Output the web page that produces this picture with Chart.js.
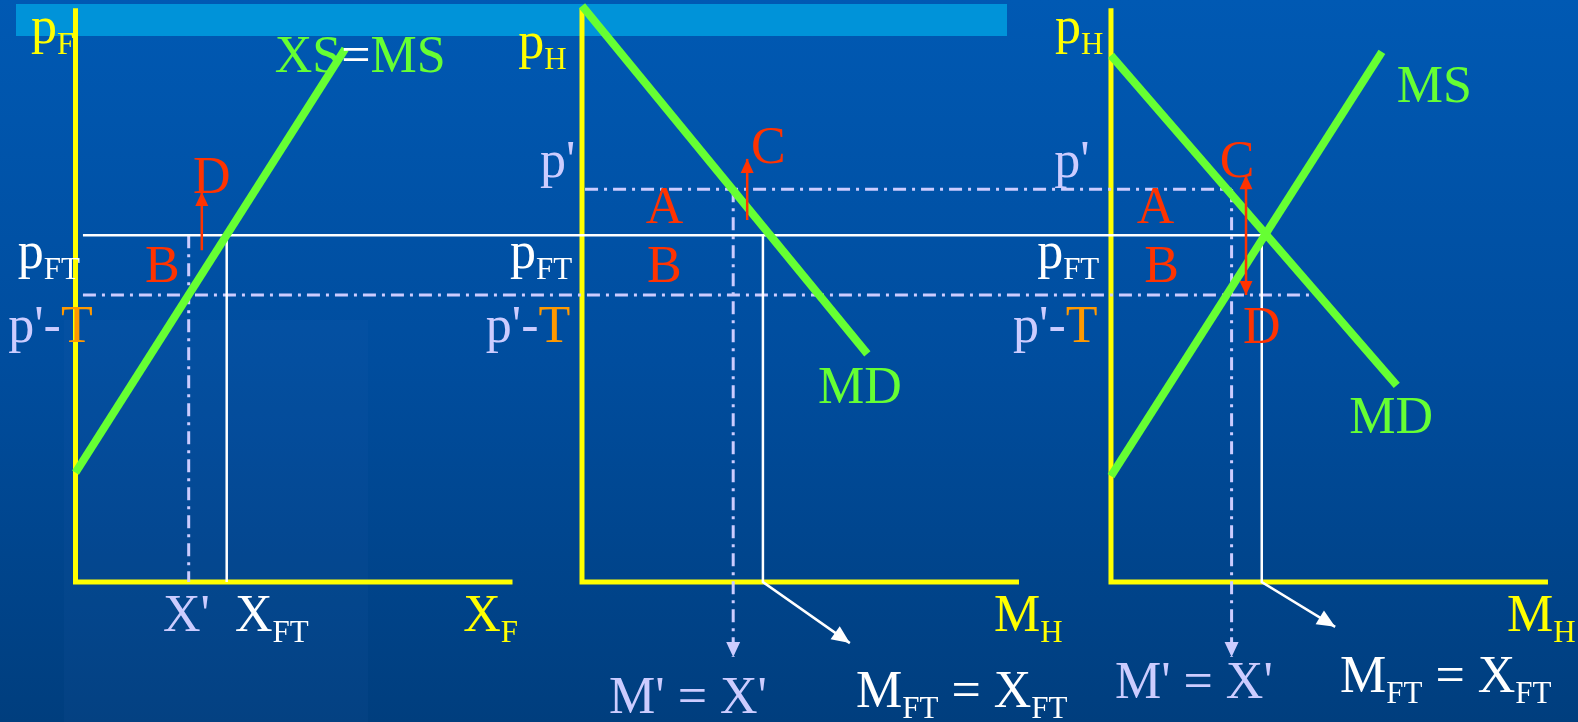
<!DOCTYPE html>
<html>
<head>
<meta charset="utf-8">
<script src="https://cdn.jsdelivr.net/npm/chart.js@4.4.1/dist/chart.umd.min.js"></script>
<style>
  html, body { margin: 0; padding: 0; }
  body {
    width: 1578px; height: 722px; overflow: hidden; position: relative;
    background: linear-gradient(to bottom, #0059b3 0%, #004d9e 50%, #003e7e 100%);
  }
  #bar { position: absolute; left: 16px; top: 4px; width: 991px; height: 32px; background: #0093d9; }
  #shade { position: absolute; left: 64px; top: 320px; width: 304px; height: 402px; background: rgba(60, 120, 200, 0.06); }
  #wrap { position: absolute; left: 0; top: 0; }
</style>
</head>
<body>
<div id="bar"></div>
<div id="shade"></div>
<div id="wrap"><canvas id="trade" width="1578" height="722"></canvas></div>
<script>
// prices (vertical axis, same in all three panels)
const pFT = 5.96;       // free trade price
const pPrime = 6.75;    // p'  (home price with tariff)
const pPrimeT = 4.93;   // p' - T (foreign price with tariff)
const axisTop = 9.86;
const axisLen = 10;

// curves: [quantity, price] end points
const xsCurve = [[0, 1.88], [6.17, 9.16]];   // panel 1: XS = MS
const mdCurve2 = [[0, 9.9], [6.53, 3.92]];   // panel 2: MD
const mdCurve3 = [[0, 9.05], [6.54, 3.38]];  // panel 3: MD
const msCurve3 = [[0, 1.82], [6.2, 9.11]];   // panel 3: MS

// quantities per panel
const qPrime = [2.59, 3.46, 2.76];   // X' / M'
const qFT = [3.46, 4.14, 3.45];      // X_FT / M_FT
const qArrowTip = [null, [6.13, -1.05], [5.13, -0.77]];
const qDashTip = -1.29;
const redArrows = [
  [2.89, 5.7, 6.7],     // panel 1: up to D
  [3.78, 6.22, 7.27],   // panel 2: up to C
  [3.09, 6.99, 4.93]    // panel 3: C <-> D
];

// layout: panel origins in x units
const origin = [1.728, 13.318, 25.423];
const xMax = 36.11;

const YEL = "#ffff00", GRN = "#66ff33", WHT = "#ffffff", LAV = "#ccccff", RED = "#ff3300", ORG = "#ff9900";
const DASHDOT = [13, 6, 3, 6];

function pt(panel, q, p) { return { x: origin[panel] + q, y: p }; }

function line(data, color, width, extra) {
  return Object.assign({
    data: data, borderColor: color, backgroundColor: color, borderWidth: width,
    pointRadius: 0, tension: 0, fill: false, clip: false, borderCapStyle: "butt"
  }, extra || {});
}

const datasets = [];

// axes
[0, 1, 2].forEach((i) => {
  datasets.push(line([pt(i, 0, axisTop), pt(i, 0, 0), pt(i, axisLen, 0)], YEL, 5, { order: 6, borderJoinStyle: "miter" }));
});

// dash-dot helper lines
datasets.push(line([pt(0, 0.17, pPrimeT), pt(2, 4.8, pPrimeT)], LAV, 3, { order: 5, borderDash: DASHDOT }));
datasets.push(line([pt(1, 0.07, pPrime), pt(2, qPrime[2], pPrime)], LAV, 3, { order: 5, borderDash: DASHDOT }));
datasets.push(line([pt(0, qPrime[0], pFT), pt(0, qPrime[0], 0)], LAV, 3, { order: 5, borderDash: DASHDOT }));
datasets.push(line([pt(1, qPrime[1], pPrime), pt(1, qPrime[1], qDashTip)], LAV, 3,
  { order: 5, borderDash: DASHDOT, arrow: "end", headLen: 15, headWidth: 14 }));
datasets.push(line([pt(2, qPrime[2], pPrime), pt(2, qPrime[2], qDashTip)], LAV, 3,
  { order: 5, borderDash: DASHDOT, arrow: "end", headLen: 15, headWidth: 14 }));

// free trade price and quantities (white)
datasets.push(line([pt(0, 0.17, pFT), pt(2, qFT[2], pFT)], WHT, 2.5, { order: 4 }));
datasets.push(line([pt(0, qFT[0], pFT), pt(0, qFT[0], 0)], WHT, 2.5, { order: 4 }));
[1, 2].forEach((i) => {
  datasets.push(line([pt(i, qFT[i], pFT), pt(i, qFT[i], 0), pt(i, qArrowTip[i][0], qArrowTip[i][1])], WHT, 2.5,
    { order: 4, arrow: "end", headLen: 18, headWidth: 16 }));
});

// supply / demand curves
datasets.push(line(xsCurve.map((c) => pt(0, c[0], c[1])), GRN, 8, { order: 2 }));
datasets.push(line(mdCurve2.map((c) => pt(1, c[0], c[1])), GRN, 8, { order: 2 }));
datasets.push(line(mdCurve3.map((c) => pt(2, c[0], c[1])), GRN, 8, { order: 2 }));
datasets.push(line(msCurve3.map((c) => pt(2, c[0], c[1])), GRN, 8, { order: 2 }));

// red arrows
redArrows.forEach((a, i) => {
  datasets.push(line([pt(i, a[0], a[1]), pt(i, a[0], a[2])], RED, 2.5,
    { order: 1, arrow: i === 2 ? "both" : "end", headLen: 14, headWidth: 13 }));
});

// text labels: [panel, q, p, parts]  part = [text, color, isSub]
const labels = [
  [0, -1.02, 9.26, [["p", YEL], ["F", YEL, 1]]],
  [0, 4.56, 8.76, [["XS", GRN], ["=", WHT], ["MS", GRN]]],
  [0, 2.69, 6.68, [["D", RED]]],
  [0, 1.59, 5.15, [["B", RED]]],
  [0, -1.32, 5.40, [["p", WHT], ["FT", WHT, 1]]],
  [0, -1.54, 4.12, [["p'-", LAV], ["T", ORG]]],
  [0, 2.0, -0.84, [["X'", LAV]]],
  [0, 3.65, -0.84, [["X", WHT], ["FT", WHT, 1]]],
  [0, 8.87, -0.84, [["X", YEL], ["F", YEL, 1]]],

  [1, -1.46, 9.0, [["p", YEL], ["H", YEL, 1]]],
  [1, -0.96, 6.96, [["p'", LAV]]],
  [1, -1.65, 5.40, [["p", WHT], ["FT", WHT, 1]]],
  [1, -2.2, 4.12, [["p'-", LAV], ["T", ORG]]],
  [1, 1.46, 6.17, [["A", RED]]],
  [1, 1.49, 5.15, [["B", RED]]],
  [1, 3.87, 7.2, [["C", RED]]],
  [1, 5.4, 3.08, [["MD", GRN]]],
  [1, 9.43, -0.84, [["M", YEL], ["H", YEL, 1]]],
  [1, 0.62, -2.25, [["M' = X'", LAV]]],
  [1, 6.27, -2.15, [["M", WHT], ["FT", WHT, 1], [" = X", WHT], ["FT", WHT, 1]]],

  [2, -1.28, 9.26, [["p", YEL], ["H", YEL, 1]]],
  [2, -1.3, 6.96, [["p'", LAV]]],
  [2, -1.69, 5.40, [["p", WHT], ["FT", WHT, 1]]],
  [2, -2.24, 4.12, [["p'-", LAV], ["T", ORG]]],
  [2, 0.59, 6.17, [["A", RED]]],
  [2, 0.76, 5.15, [["B", RED]]],
  [2, 2.49, 6.96, [["C", RED]]],
  [2, 3.02, 4.11, [["D", RED]]],
  [2, 6.54, 8.25, [["MS", GRN]]],
  [2, 5.45, 2.56, [["MD", GRN]]],
  [2, 9.06, -0.84, [["M", YEL], ["H", YEL, 1]]],
  [2, 0.09, -1.99, [["M' = X'", LAV]]],
  [2, 5.24, -1.89, [["M", WHT], ["FT", WHT, 1], [" = X", WHT], ["FT", WHT, 1]]]
];

const FONT = "'Liberation Serif', 'Times New Roman', serif";

const arrowPlugin = {
  id: "arrowHeads",
  afterDatasetsDraw(chart) {
    const ctx = chart.ctx;
    chart.data.datasets.forEach((ds, i) => {
      if (!ds.arrow) return;
      const pts = chart.getDatasetMeta(i).data;
      const n = pts.length;
      const ends = [[pts[n - 2], pts[n - 1]]];
      if (ds.arrow === "both") ends.push([pts[1], pts[0]]);
      ends.forEach(([a, b]) => {
        const ang = Math.atan2(b.y - a.y, b.x - a.x);
        ctx.save();
        ctx.translate(b.x, b.y);
        ctx.rotate(ang);
        ctx.beginPath();
        ctx.moveTo(0, 0);
        ctx.lineTo(-ds.headLen, -ds.headWidth / 2);
        ctx.lineTo(-ds.headLen, ds.headWidth / 2);
        ctx.closePath();
        ctx.fillStyle = ds.borderColor;
        ctx.fill();
        ctx.restore();
      });
    });
  }
};

const labelPlugin = {
  id: "labels",
  afterDraw(chart) {
    const ctx = chart.ctx;
    const xs = chart.scales.x, ys = chart.scales.y;
    ctx.save();
    ctx.textBaseline = "alphabetic";
    ctx.textAlign = "left";
    labels.forEach(([panel, q, p, parts]) => {
      let x = xs.getPixelForValue(origin[panel] + q);
      const y = ys.getPixelForValue(p);
      parts.forEach(([t, color, sub]) => {
        ctx.font = (sub ? "31px " : "52px ") + FONT;
        ctx.fillStyle = color;
        ctx.fillText(t, x, sub ? y + 11 : y);
        x += ctx.measureText(t).width;
      });
    });
    ctx.restore();
  }
};

const ctx = document.getElementById("trade").getContext("2d");
window.tradeChart = new Chart(ctx, {
  type: "line",
  data: { datasets: datasets },
  options: {
    responsive: false,
    animation: false,
    events: [],
    layout: { padding: { left: 0, right: 0, top: 0, bottom: 140 } },
    scales: {
      x: { type: "linear", min: 0, max: xMax, display: false },
      y: { type: "linear", min: 0, max: 10, display: false }
    },
    plugins: { legend: { display: false }, tooltip: { enabled: false } }
  },
  plugins: [arrowPlugin, labelPlugin]
});
</script>
</body>
</html>
